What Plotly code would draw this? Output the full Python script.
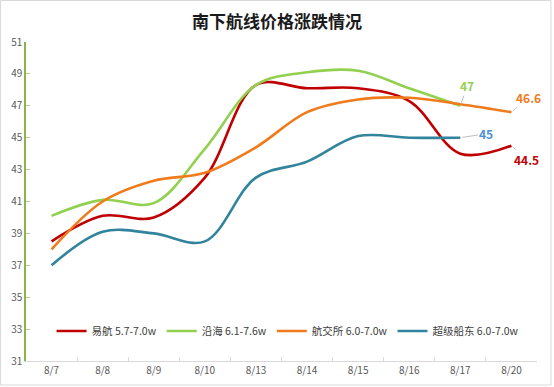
import plotly.graph_objects as go

dates = ["8/7", "8/8", "8/9", "8/10", "8/13", "8/14", "8/15", "8/16", "8/17", "8/20"]
yihang = [38.5, 40.1, 40.0, 42.5, 48.3, 48.1, 48.1, 47.3, 44.0, 44.5]
yanhai = [40.1, 41.1, 40.9, 44.3, 48.3, 49.1, 49.2, 48.1, 47.0, None]
hangjiaosuo = [38.0, 41.0, 42.3, 42.8, 44.4, 46.6, 47.4, 47.5, 47.1, 46.6]
chaoji = [37.0, 39.1, 39.0, 38.5, 42.5, 43.5, 45.1, 45.0, 45.0, None]
y_ticks = [31, 33, 35, 37, 39, 41, 43, 45, 47, 49, 51]

series = [
    ("易航 5.7-7.0w", yihang, "#c00000"),
    ("沿海 6.1-7.6w", yanhai, "#92d050"),
    ("航交所 6.0-7.0w", hangjiaosuo, "#f07b1c"),
    ("超级船东 6.0-7.0w", chaoji, "#31849b"),
]

FONT = "Noto Sans CJK SC, DejaVu Sans, sans-serif"

fig = go.Figure()
for name, vals, color in series:
    fig.add_trace(go.Scatter(
        x=dates, y=vals, name=name, mode="lines",
        line=dict(color=color, width=2.6, shape="spline", smoothing=1.0),
        connectgaps=False,
    ))

# data labels with leader lines
labels = [
    (dates[8], yanhai[8], "47", "#92d050", 7, -20),
    (dates[9], hangjiaosuo[9], "46.6", "#f07b1c", 17, -15),
    (dates[8], chaoji[8], "45", "#4a8fd8", 26, -4),
    (dates[9], yihang[9], "44.5", "#c00000", 15, 14),
]
for x, y, txt, c, ax, ay in labels:
    fig.add_annotation(
        x=x, y=y, text=f"<b>{txt}</b>", showarrow=True, arrowhead=0,
        arrowwidth=1, arrowcolor="#bfbfbf", ax=ax, ay=ay,
        font=dict(color=c, size=12, family=FONT), standoff=2,
    )

L, R, T, B = 26, 17, 42, 26
PW, PH = 554 - L - R, 387 - T - B

fig.update_layout(
    width=554, height=387,
    margin=dict(l=L, r=R, t=T, b=B, autoexpand=False),
    paper_bgcolor="white", plot_bgcolor="white",
    title=dict(text="<b>南下航线价格涨跌情况</b>", x=0.5, xanchor="center",
               y=1 - 22 / 387, yanchor="middle",
               font=dict(size=17, color="#1a1a1a", family=FONT)),
    showlegend=True,
    legend=dict(orientation="h", x=0.05, y=(361 - 331) / PH, xanchor="left",
                yanchor="middle",
                font=dict(size=10.5, color="#404040", family=FONT),
                itemwidth=30, bgcolor="rgba(0,0,0,0)", tracegroupgap=0),
    font=dict(family=FONT),
)

fig.update_xaxes(
    type="category", categoryorder="array", categoryarray=dates,
    range=[-0.5, len(dates) - 0.5], automargin=False,
    showline=True, linecolor="#d9d9d9", linewidth=1,
    ticks="inside", tickson="boundaries", ticklen=4, tickcolor="#d9d9d9",
    showgrid=False, zeroline=False,
    tickfont=dict(size=10, color="#595959", family=FONT),
)
fig.update_yaxes(
    range=[31, 51], tickvals=y_ticks, automargin=False,
    showline=True, linecolor="#8fb14b", linewidth=1.5,
    ticks="inside", ticklen=4, tickcolor="#b5cf87",
    showgrid=False, zeroline=False,
    tickfont=dict(size=10, color="#595959", family=FONT),
)

# outer border of chart area
fig.add_shape(type="rect", xref="paper", yref="paper",
              x0=-(L - 0.5) / PW, x1=1 + (R - 3) / PW,
              y0=-(B - 2) / PH, y1=1 + (T - 0.5) / PH,
              line=dict(color="#d9d9d9", width=1), fillcolor="rgba(0,0,0,0)",
              layer="below")

fig.write_html("out.html", config={"displayModeBar": False},
               post_script="document.body.style.margin='0';")
